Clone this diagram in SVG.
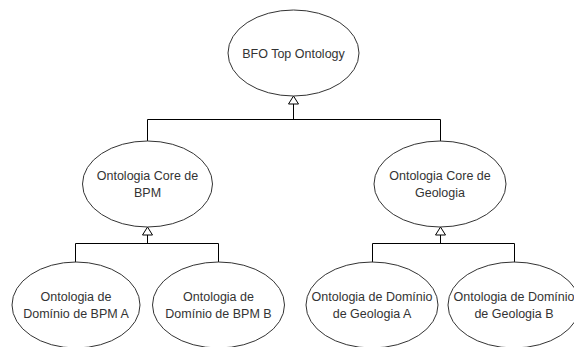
<svg xmlns="http://www.w3.org/2000/svg" width="574" height="347" viewBox="0 0 574 347">
<defs>
<style>
.n ellipse{fill:#fff;stroke:#333;stroke-width:1}
.n text{font-family:"Liberation Sans",Arial,sans-serif;font-size:12.5px;fill:#333;text-anchor:middle}
.c path{fill:none;stroke:#000;stroke-width:1}
.c polygon{fill:#fff;stroke:#000;stroke-width:1}
</style>
</defs>
<rect width="574" height="347" fill="#fff"/>
<g class="c" id="connectors">
<path d="M147.5 141V119.5H440.5V141"/>
<path d="M293.5 119.5V104"/>
<polygon points="293.5,96 288.5,104 298.5,104"/>
<path d="M75.5 262V243.5H218.5V262"/>
<path d="M147.5 243.5V235"/>
<polygon points="147.5,227 142.5,235 152.5,235"/>
<path d="M372.5 262V243.5H514.5V262"/>
<path d="M440.5 243.5V235"/>
<polygon points="440.5,227 435.5,235 445.5,235"/>
</g>
<g class="n" id="bfo">
<ellipse cx="293.5" cy="53" rx="65.5" ry="43"/>
<text x="293.5" y="57.5">BFO Top Ontology</text>
</g>
<g class="n" id="core-bpm">
<ellipse cx="147.5" cy="184" rx="65" ry="43"/>
<text x="147.5" y="180">Ontologia Core de</text>
<text x="147.5" y="197">BPM</text>
</g>
<g class="n" id="core-geo">
<ellipse cx="440" cy="184" rx="66" ry="43"/>
<text x="440" y="180">Ontologia Core de</text>
<text x="440" y="197">Geologia</text>
</g>
<g class="n" id="dom-bpm-a">
<ellipse cx="76" cy="305" rx="64" ry="43"/>
<text x="76" y="301">Ontologia de</text>
<text x="76" y="318">Domínio de BPM A</text>
</g>
<g class="n" id="dom-bpm-b">
<ellipse cx="218.5" cy="305" rx="66" ry="43"/>
<text x="218.5" y="301">Ontologia de</text>
<text x="218.5" y="318">Domínio de BPM B</text>
</g>
<g class="n" id="dom-geo-a">
<ellipse cx="372" cy="305" rx="66" ry="43"/>
<text x="372" y="301">Ontologia de Domínio</text>
<text x="372" y="318">de Geologia A</text>
</g>
<g class="n" id="dom-geo-b">
<ellipse cx="514" cy="305" rx="66" ry="43"/>
<text x="514" y="301">Ontologia de Domínio</text>
<text x="514" y="318">de Geologia B</text>
</g>
</svg>
